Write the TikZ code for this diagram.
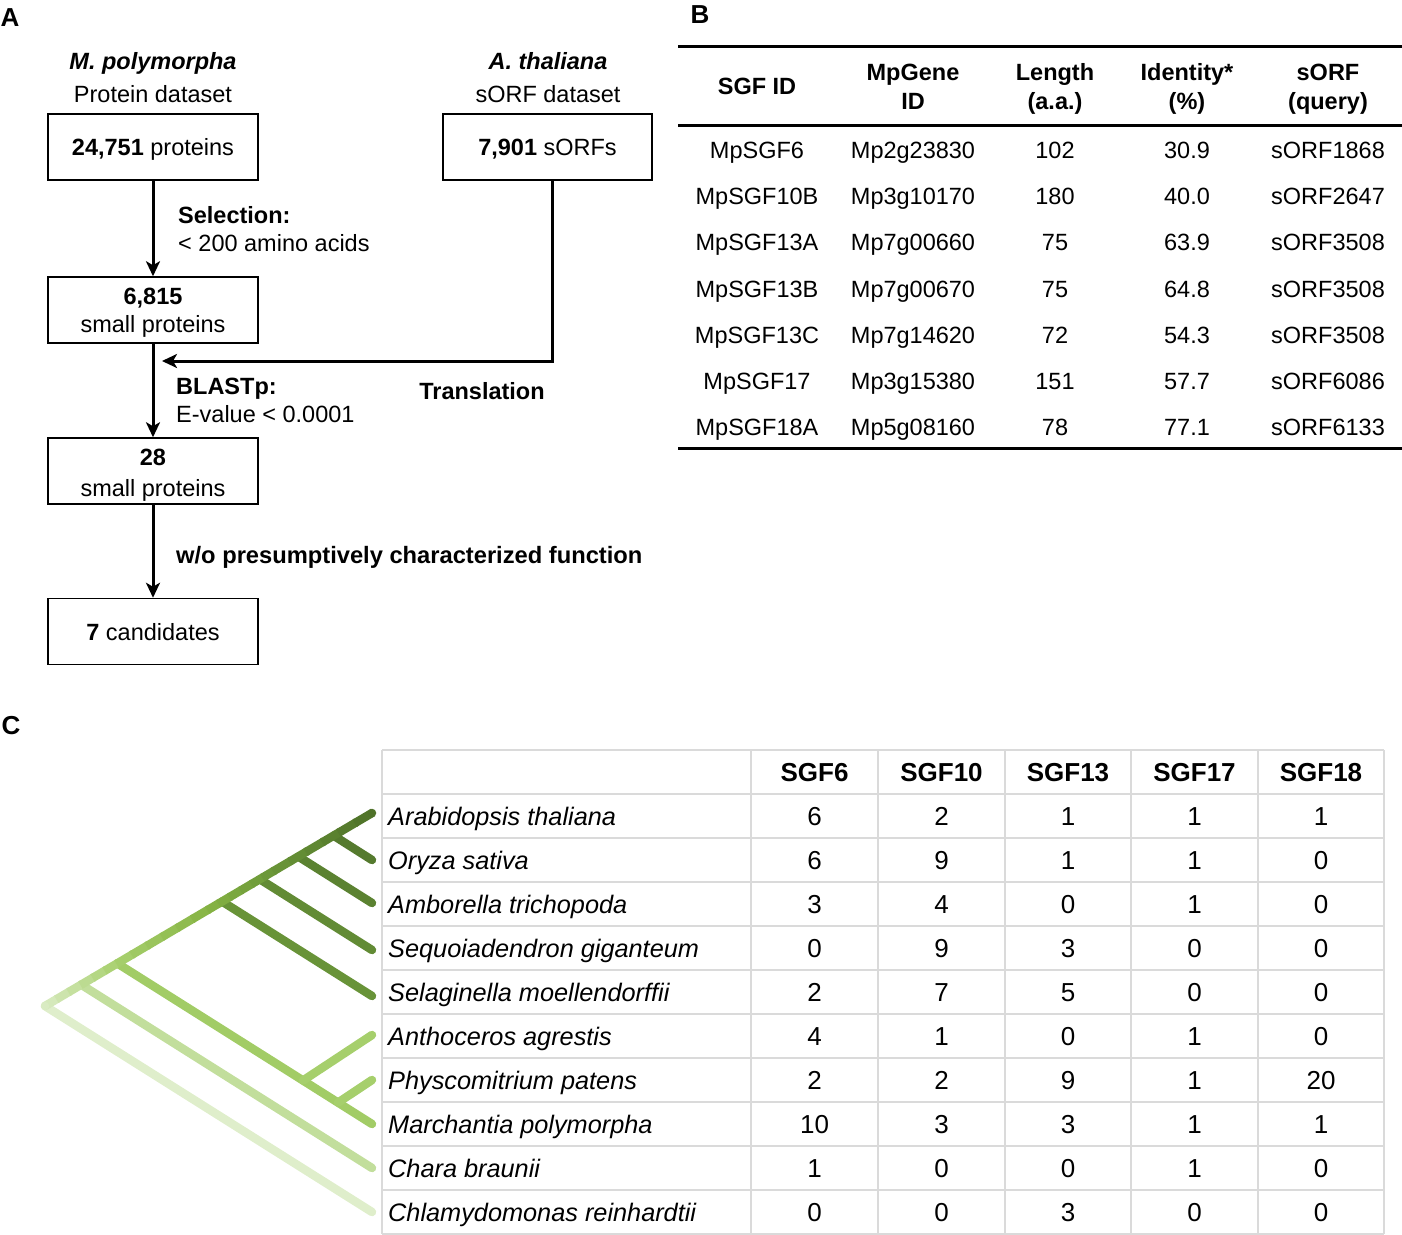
\documentclass[tikz,border=0pt]{standalone}
\usepackage{fontspec}
\setmainfont{Liberation Sans}
\usetikzlibrary{arrows.meta,calc}
\definecolor{gridc}{HTML}{DADADA}
\definecolor{u0}{HTML}{D9EBC2}
\definecolor{u1}{HTML}{A8D06E}
\definecolor{u2}{HTML}{86B444}
\definecolor{u3}{HTML}{6A9638}
\definecolor{u4}{HTML}{4F7229}
\definecolor{gO}{HTML}{557A2E}
\definecolor{gAm}{HTML}{5B8231}
\definecolor{gS}{HTML}{628B35}
\definecolor{gSe}{HTML}{689338}
\definecolor{gBr}{HTML}{A2CC66}
\definecolor{gAn}{HTML}{A6CF6C}
\definecolor{gCh}{HTML}{C2DE9C}
\definecolor{gCl}{HTML}{DFEECB}
\newcommand\grseg[6]{%
 \foreach \k in {0,...,5}{
   \pgfmathsetmacro\pp{100-(\k+0.5)*100/6}
   \colorlet{segc}{#5!\pp!#6}
   \draw[line width=8.5pt, segc] ($(#1,#2)!{(\k-0.06)/6}!(#3,#4)$) -- ($(#1,#2)!{(\k+1.06)/6}!(#3,#4)$);
 }}
\begin{document}
\begin{tikzpicture}[x=1pt,y=-1pt,
 txa/.style={inner sep=0pt, text height=17pt, text depth=0pt, font=\fontsize{23.5}{28}\selectfont},
 txc/.style={inner sep=0pt, text height=18.6pt, text depth=0pt, font=\fontsize{26}{30}\selectfont},
 lab/.style={inner sep=0pt, text height=18.6pt, text depth=0pt, font=\fontsize{26}{30}\selectfont\bfseries},
 box/.style={draw, line width=1.5pt, minimum width=210pt, minimum height=66pt, inner sep=0pt},
 arr/.style={line width=3pt, -{Stealth[length=15pt,width=14pt,inset=4pt]}},
 rule/.style={line width=3pt},
 grid/.style={draw=gridc, line width=2pt},
 br/.style={line width=8.5pt, line cap=round},
 ]
\useasboundingbox (0,0) rectangle (1402,1234);

% ---------------- Panel A ----------------
\node[lab] (labA) at (10,17) {A};
\node[txa, font=\fontsize{23.5}{28}\selectfont\bfseries\itshape] (h1) at (153,61) {M. polymorpha};
\node[txa] (h1b) at (153,94) {Protein dataset};
\node[txa, font=\fontsize{23.5}{28}\selectfont\bfseries\itshape] (h2) at (548,61) {A. thaliana};
\node[txa] (h2b) at (548,94) {sORF dataset};

\node[box] (b1) at (153,147) {};
\node[txa] (b1t) at (b1) {\textbf{24,751} proteins};
\node[box, minimum width=209pt] (b2) at (547.5,147) {};
\node[txa] (b2t) at (b2) {\textbf{7,901} sORFs};
\node[box] (b3) at (153,310) {};
\node[txa] (b3t) at (153,296) {\textbf{6,815}};
\node[txa] (b3u) at (153,324) {small proteins};
\node[box] (b4) at (153,471) {};
\node[txa] (b4t) at (153,457) {\textbf{28}};
\node[txa] (b4u) at (153,488) {small proteins};
\node[box] (b5) at (153,631.5) {};
\node[txa] (b5t) at (b5) {\textbf{7} candidates};

\draw[arr] (b1.south) -- (b3.north);
\draw[arr] (b3.south) -- (b4.north);
\draw[arr] (b4.south) -- (b5.north);
\coordinate (tj) at (162,361);
\draw[line width=3pt, -{Stealth[length=15pt,width=14pt,inset=4pt]}, line join=miter] ([xshift=4.5pt]b2.south) |- (tj);

\node[txa, anchor=west, font=\fontsize{23.5}{28}\selectfont\bfseries] (s1) at (178,215) {Selection:};
\node[txa, anchor=west] (s2) at (178,243) {< 200 amino acids};
\node[txa, anchor=west, font=\fontsize{23.5}{28}\selectfont\bfseries] (s3) at (176,386) {BLASTp:};
\node[txa, anchor=west] (s4) at (176,414) {E-value < 0.0001};
\node[txa, font=\fontsize{23.5}{28}\selectfont\bfseries] (s5) at (482,391) {Translation};
\node[txa, anchor=west, font=\fontsize{23.7}{28}\selectfont\bfseries] (s6) at (176,555) {w/o presumptively characterized function};

% ---------------- Panel B ----------------
\node[lab] (labB) at (700,14) {B};
\draw[rule] (678,46) -- (1402,46);
\draw[rule] (678,125) -- (1402,125);
\draw[rule] (678,448) -- (1402,448);
\begin{scope}[every node/.style={txa, font=\fontsize{23.5}{28}\selectfont\bfseries}]
\node (hb1) at (757,86) {SGF ID};
\node (hb2) at (913,72) {MpGene};
\node (hb2b) at (913,101) {ID};
\node (hb3) at (1055,72) {Length};
\node (hb3b) at (1055,101) {(a.a.)};
\node (hb4) at (1187,72) {Identity*};
\node (hb4b) at (1187,101) {(\%)};
\node (hb5) at (1328,72) {sORF};
\node (hb5b) at (1328,101) {(query)};
\end{scope}
\foreach \a/\b/\c/\d/\e [count=\i from 0] in {
 MpSGF6/Mp2g23830/102/30.9/sORF1868,
 MpSGF10B/Mp3g10170/180/40.0/sORF2647,
 MpSGF13A/Mp7g00660/75/63.9/sORF3508,
 MpSGF13B/Mp7g00670/75/64.8/sORF3508,
 MpSGF13C/Mp7g14620/72/54.3/sORF3508,
 MpSGF17/Mp3g15380/151/57.7/sORF6086,
 MpSGF18A/Mp5g08160/78/77.1/sORF6133}{
 \pgfmathsetmacro\yy{150+46.2*\i}
 \node[txa] (ba\i) at (757,\yy) {\a};
 \node[txa] (bb\i) at (913,\yy) {\b};
 \node[txa] (bc\i) at (1055,\yy) {\c};
 \node[txa] (bd\i) at (1187,\yy) {\d};
 \node[txa] (be\i) at (1328,\yy) {\e};
}

% ---------------- Panel C ----------------
\node[lab] (labC) at (11,725) {C};
\foreach \x in {382,751,878,1005,1131,1258,1384}{
 \draw[grid] (\x,750) -- (\x,1234);
}
\foreach \y in {750,794,838,882,926,970,1014,1058,1102,1146,1190,1234}{
 \draw[grid] (382,\y) -- (1384,\y);
}
\begin{scope}[every node/.style={txc, font=\fontsize{26}{30}\selectfont\bfseries}]
\node (hc1) at (814.5,772) {SGF6};
\node (hc2) at (941.5,772) {SGF10};
\node (hc3) at (1068,772) {SGF13};
\node (hc4) at (1194.5,772) {SGF17};
\node (hc5) at (1321,772) {SGF18};
\end{scope}
\foreach \n/\a/\b/\c/\d/\e [count=\i from 0] in {
 Arabidopsis thaliana/6/2/1/1/1,
 Oryza sativa/6/9/1/1/0,
 Amborella trichopoda/3/4/0/1/0,
 Sequoiadendron giganteum/0/9/3/0/0,
 Selaginella moellendorffii/2/7/5/0/0,
 Anthoceros agrestis/4/1/0/1/0,
 Physcomitrium patens/2/2/9/1/20,
 Marchantia polymorpha/10/3/3/1/1,
 Chara braunii/1/0/0/1/0,
 Chlamydomonas reinhardtii/0/0/3/0/0}{
 \pgfmathsetmacro\yy{816+44*\i}
 \node[txc, anchor=west, font=\fontsize{25.3}{30}\selectfont\itshape] (sp\i) at (388,\yy) {\n};
 \node[txc] (ca\i) at (814.5,\yy) {\a};
 \node[txc] (cb\i) at (941.5,\yy) {\b};
 \node[txc] (cc\i) at (1068,\yy) {\c};
 \node[txc] (cd\i) at (1194.5,\yy) {\d};
 \node[txc] (ce\i) at (1321,\yy) {\e};
}

% tree
\draw[br, gCl] (45,1006) -- (372,1212);
\draw[br, gCh] (81.3,984.7) -- (372,1168);
\draw[br, gBr] (117.4,963.4) -- (372,1124);
\draw[br, gAn] (303,1080.5) -- (372,1035);
\draw[br, gAn] (338,1102.6) -- (372,1080);
\draw[br, gSe] (222.1,901.5) -- (372,996);
\draw[br, gS] (259.8,879.2) -- (372,950);
\draw[br, gAm] (298.3,856.5) -- (372,903);
\draw[br, gO] (333.6,835.6) -- (372,860);
% upper (main) line with colour gradient
\grseg{45}{1006}{117.4}{963.3}{u0}{u1}
\grseg{117.4}{963.3}{208}{909.8}{u1}{u2}
\grseg{208}{909.8}{274}{870.8}{u2}{u3}
\grseg{274}{870.8}{372}{813}{u3}{u4}
\fill[u4] (372,813) circle (4.25);
\fill[u0] (45,1006) circle (4.25);
\end{tikzpicture}
\end{document}
